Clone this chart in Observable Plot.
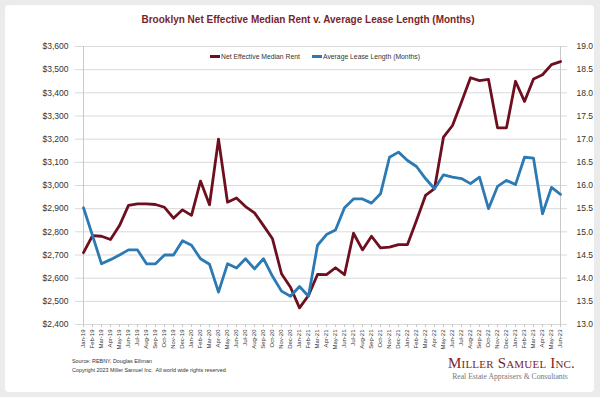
<!DOCTYPE html>
<html><head><meta charset="utf-8">
<script src="https://cdn.jsdelivr.net/npm/d3@7"></script>
<script src="https://cdn.jsdelivr.net/npm/@observablehq/plot@0.6"></script>
<style>
body{margin:0;background:#ebebeb;width:600px;height:397px;overflow:hidden;position:relative;font-family:"Liberation Sans",Arial,sans-serif;}
#card{position:absolute;left:5px;top:5px;width:589px;height:387px;background:#fff;border-radius:4px;}
#title{position:absolute;top:14px;left:8px;width:600px;text-align:center;font-weight:bold;font-size:10px;color:#7a1f2c;}
#chart{position:absolute;left:0;top:0;}
.leg{position:absolute;top:53px;font-size:6.8px;color:#333;white-space:nowrap;}
.sw{display:inline-block;width:10px;height:3px;vertical-align:middle;margin-right:1px;position:relative;top:-1px;}
.src{position:absolute;left:72px;font-size:5.4px;color:#333;white-space:nowrap;}
#logo{position:absolute;left:448px;top:355px;width:126px;text-align:center;font-family:"Liberation Serif","DejaVu Serif",serif;font-variant:small-caps;font-size:15px;color:#7a1f2c;letter-spacing:0.2px;white-space:nowrap;}
#tag{position:absolute;left:447px;top:372px;width:126px;text-align:center;font-family:"Liberation Serif","DejaVu Serif",serif;font-size:7.7px;color:#777;white-space:nowrap;}
</style></head>
<body>
<div id="card"></div>
<div id="title">Brooklyn Net Effective Median Rent v. Average Lease Length (Months)</div>
<div id="chart"></div>
<div class="leg" style="left:210px"><span class="sw" style="background:#6e0f1f"></span>Net Effective Median Rent</div>
<div class="leg" style="left:312px"><span class="sw" style="background:#2b7ab3"></span>Average Lease Length (Months)</div>
<div class="src" style="top:358px">Source: REBNY, Douglas Elliman</div>
<div class="src" style="top:367px">Copyright 2023 Miller Samuel Inc.&nbsp; All world wide rights reserved.</div>
<div id="logo">Miller Samuel Inc.</div>
<div id="tag">Real Estate Appraisers &amp; Consultants</div>
<script>
const months = ["Jan-19","Feb-19","Mar-19","Apr-19","May-19","Jun-19","Jul-19","Aug-19","Sep-19","Oct-19","Nov-19","Dec-19",
"Jan-20","Feb-20","Mar-20","Apr-20","May-20","Jun-20","Jul-20","Aug-20","Sep-20","Oct-20","Nov-20","Dec-20",
"Jan-21","Feb-21","Mar-21","Apr-21","May-21","Jun-21","Jul-21","Aug-21","Sep-21","Oct-21","Nov-21","Dec-21",
"Jan-22","Feb-22","Mar-22","Apr-22","May-22","Jun-22","Jul-22","Aug-22","Sep-22","Oct-22","Nov-22","Dec-22",
"Jan-23","Feb-23","Mar-23","Apr-23","May-23","Jun-23"];
const rent = [2710,2784,2781,2767,2827,2914,2921,2921,2918,2906,2859,2895,
2871,3019,2917,3200,2928,2946,2909,2882,2827,2770,2619,2561,
2472,2525,2616,2615,2645,2615,2794,2722,2781,2731,2734,2745,
2745,2849,2957,2986,3209,3259,3360,3465,3453,3458,3249,3249,
3450,3363,3460,3478,3522,3535];
const lease = [15.52,14.92,14.31,14.40,14.50,14.61,14.61,14.31,14.31,14.50,14.50,14.81,
14.71,14.42,14.30,13.70,14.31,14.22,14.42,14.20,14.42,14.04,13.72,13.61,
13.82,13.61,14.71,14.94,15.04,15.52,15.71,15.71,15.62,15.82,16.61,16.72,
16.54,16.41,16.15,15.93,16.23,16.18,16.15,16.04,16.18,15.50,15.98,16.11,
16.02,16.61,16.59,15.39,15.96,15.81];
const leftTicks = [2400,2500,2600,2700,2800,2900,3000,3100,3200,3300,3400,3500,3600];
const rightTicks = [13.0,13.5,14.0,14.5,15.0,15.5,16.0,16.5,17.0,17.5,18.0,18.5,19.0];
const toRent = v => 2400 + (v - 13) * 200;
const fromRent = d => (d - 2400) / 200 + 13;
const data = months.map((m, i) => ({m, rent: rent[i], lease: lease[i]}));

const chart = Plot.plot({
  width: 600, height: 362,
  marginTop: 46, marginLeft: 75, marginRight: 33, marginBottom: 38,
  style: {background: "transparent", fontFamily: "Liberation Sans, Arial, sans-serif", overflow: "visible", color: "#333"},
  x: {type: "point", domain: months, padding: 0, label: null},
  y: {domain: [2400, 3600], label: null},
  marks: [
    Plot.gridY(leftTicks, {stroke: "#d9d9d9", strokeOpacity: 1}),
    Plot.ruleX([months[0], months[months.length - 1]], {stroke: "#c8c8c8", strokeWidth: 1}),
    Plot.axisY(leftTicks, {anchor: "left", label: null, tickSize: 0, tickPadding: 7, fontSize: 8.5, tickFormat: d => "$" + d3.format(",")(d)}),
    Plot.axisY(rightTicks.map(toRent), {anchor: "right", label: null, tickSize: 0, tickPadding: 9, fontSize: 8.5, tickFormat: d => fromRent(d).toFixed(1)}),
    Plot.axisX({label: null, tickRotate: -90, fontSize: 6, tickSize: 3, tickPadding: 2, stroke: "#c8c8c8"}),
    Plot.line(data, {x: "m", y: "rent", stroke: "#6e0f1f", strokeWidth: 2.8}),
    Plot.line(data, {x: "m", y: d => toRent(d.lease), stroke: "#2b7ab3", strokeWidth: 2.8})
  ]
});
document.getElementById("chart").appendChild(chart);
</script>
</body></html>
